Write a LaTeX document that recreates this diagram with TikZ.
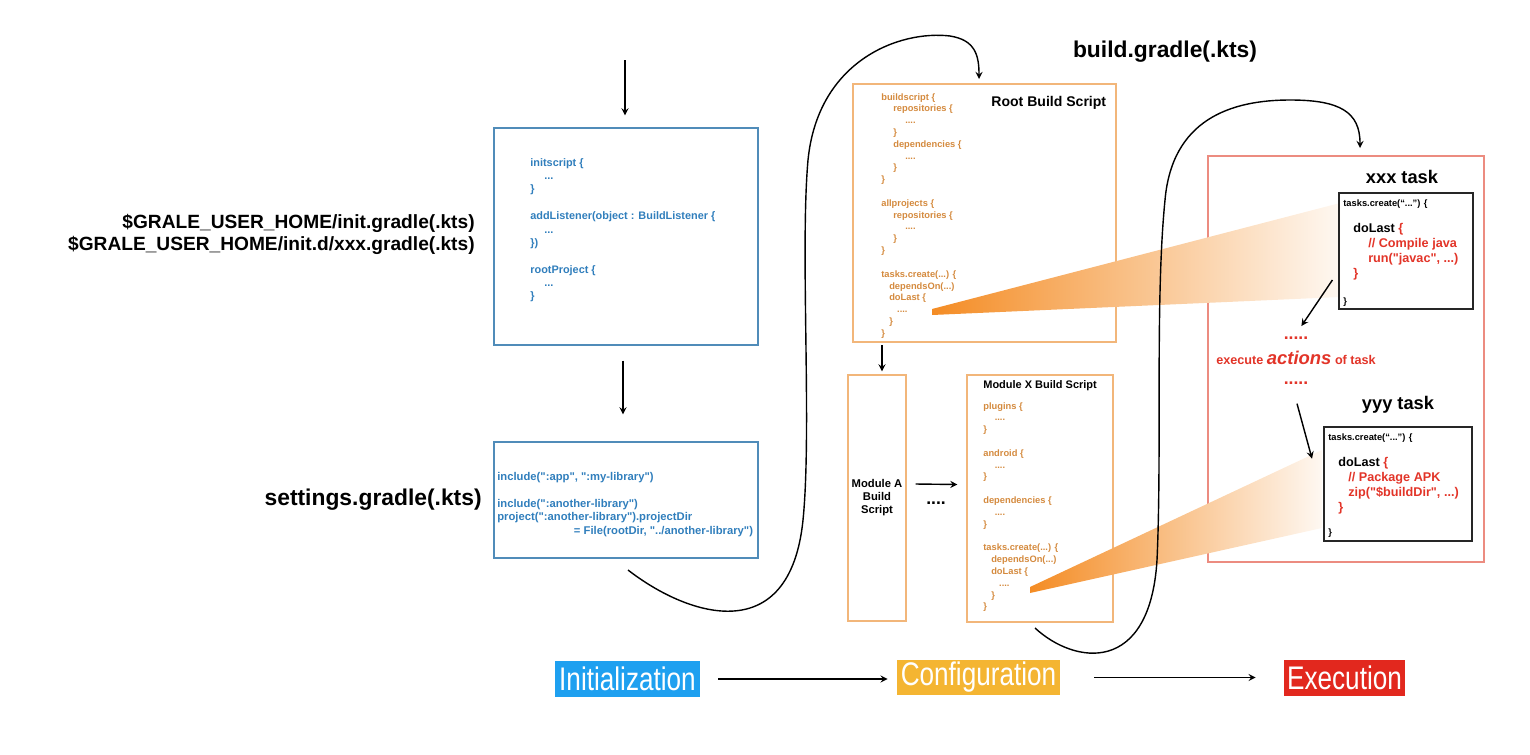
\documentclass[tikz,border=0pt]{standalone}
\usepackage{fontspec}
\setmainfont{Liberation Sans}[Ligatures=TeXOff]
\newfontfamily\stagefont[FakeStretch=0.8]{Liberation Sans}
\usetikzlibrary{arrows,positioning,calc}
\definecolor{initblue}{RGB}{48,126,188}
\definecolor{initline}{RGB}{80,140,185}
\definecolor{codeorange}{RGB}{212,138,62}
\definecolor{boxorange}{RGB}{242,182,122}
\definecolor{boxred}{RGB}{236,140,128}
\definecolor{taskred}{RGB}{226,52,40}
\definecolor{beamorange}{RGB}{244,140,36}
\definecolor{initbg}{RGB}{30,160,240}
\definecolor{confbg}{RGB}{244,181,50}
\definecolor{execbg}{RGB}{226,40,30}
\tikzset{
     flow/.style = {black, ->, >=stealth, thick},
     initframe/.style = {draw=initline, line width=0.7pt, inner sep=0pt},
     confframe/.style = {draw=boxorange, line width=0.7pt, inner sep=0pt},
     execframe/.style = {draw=boxred, line width=0.7pt, inner sep=0pt},
     taskframe/.style = {draw=black!85, line width=0.7pt, inner sep=0pt},
     stage/.style = {text=white, inner sep=0pt, font=\stagefont\fontsize{18.6}{20}\selectfont},
     filelabel/.style = {inner sep=0pt, font=\bfseries\fontsize{13}{15}\selectfont},
     codetext/.style = {align=left, anchor=north west, inner sep=0pt},
     gradlecode/.style = {codetext, text=codeorange, font=\bfseries\fontsize{5.3}{6.72}\selectfont},
     taskhead/.style = {anchor=base west, inner sep=0pt, font=\bfseries\fontsize{5.3}{6}\selectfont},
     taskbody/.style = {codetext, text=taskred, font=\bfseries\fontsize{7.2}{8.6}\selectfont},
    }

\begin{document}
\begin{tikzpicture}[x=0.02cm, y=-0.02cm]
  \useasboundingbox (0,0) rectangle (1530,754);

  \node [initframe, minimum width=5.28cm, minimum height=4.34cm] (initbox) at (626,236.5) {};
  \node [initframe, minimum width=5.28cm, minimum height=2.32cm] (setbox) at (626,500) {};
  \node [confframe, minimum width=5.26cm, minimum height=5.16cm] (rootbox) at (984.5,213) {};
  \node [confframe, minimum width=1.16cm, minimum height=4.92cm, align=center,
         font=\bfseries\fontsize{6.4}{7.4}\selectfont] (modA) at (877,498) {Module A\\Build\\Script};
  \node [confframe, minimum width=2.92cm, minimum height=4.94cm] (modX) at (1040,498.5) {};
  \node [execframe, minimum width=5.52cm, minimum height=8.12cm] (redbox) at (1346,359) {};

  \shade [left color=beamorange, right color=beamorange!6] (932,309) -- (1340,203) -- (1340,297) -- (932,315) -- cycle;
  \shade [left color=beamorange, right color=beamorange!6] (1030,587) -- (1322,450) -- (1322,528) -- (1030,593) -- cycle;

  \node [taskframe, minimum width=2.68cm, minimum height=2.32cm] (xxxbox) at (1406,251) {};
  \node [taskframe, minimum width=2.96cm, minimum height=2.28cm] (yyybox) at (1398,484) {};

  \node [align=right, anchor=east, inner sep=0pt, font=\bfseries\fontsize{10.9}{12.5}\selectfont] (initfiles) at (475,234)
        {\$GRALE\_USER\_HOME/init.gradle(.kts)\\\$GRALE\_USER\_HOME/init.d/xxx.gradle(.kts)};
  \node [filelabel, anchor=east] (setfile) at (482,500) {settings.gradle(.kts)};
  \node [filelabel] (buildfile) at (1165,52) {build.gradle(.kts)};

  \node [codetext, text=initblue, font=\bfseries\fontsize{6.2}{7.6}\selectfont] (initcode) at (530,158)
        {initscript \{\\
         \hspace*{8pt}...\\
         \}\\[7.6pt]
         addListener(object : BuildListener \{\\
         \hspace*{8pt}...\\
         \})\\[7.6pt]
         rootProject \{\\
         \hspace*{8pt}...\\
         \}};
  \node [codetext, text=initblue, font=\bfseries\fontsize{6.4}{7.65}\selectfont] (setcode) at (497,472)
        {include(":app", ":my-library")\\[7.65pt]
         include(":another-library")\\
         project(":another-library").projectDir\\
         \hspace*{43.6pt}= File(rootDir, "../another-library")};

  \node [gradlecode] (rootcode) at (881,93)
        {buildscript \{\\
         \hspace*{6.8pt}repositories \{\\
         \hspace*{13.6pt}....\\
         \hspace*{6.8pt}\}\\
         \hspace*{6.8pt}dependencies \{\\
         \hspace*{13.6pt}....\\
         \hspace*{6.8pt}\}\\
         \}\\[6.72pt]
         allprojects \{\\
         \hspace*{6.8pt}repositories \{\\
         \hspace*{13.6pt}....\\
         \hspace*{6.8pt}\}\\
         \}\\[6.72pt]
         tasks.create(...) \{\\
         \hspace*{4.5pt}dependsOn(...)\\
         \hspace*{4.5pt}doLast \{\\
         \hspace*{9pt}....\\
         \hspace*{4.5pt}\}\\
         \}};
  \node [anchor=west, inner sep=0pt, font=\bfseries\fontsize{8}{9.6}\selectfont] (roottitle) at (991,103) {Root Build Script};

  \node [anchor=west, inner sep=0pt, font=\bfseries\fontsize{6.25}{7.5}\selectfont] (modXtitle) at (983,386) {Module X Build Script};
  \node [gradlecode] (modXcode) at (983,402)
        {plugins \{\\
         \hspace*{6.5pt}....\\
         \}\\[6.72pt]
         android \{\\
         \hspace*{6.5pt}....\\
         \}\\[6.72pt]
         dependencies \{\\
         \hspace*{6.5pt}....\\
         \}\\[6.72pt]
         tasks.create(...) \{\\
         \hspace*{4.5pt}dependsOn(...)\\
         \hspace*{4.5pt}doLast \{\\
         \hspace*{9pt}....\\
         \hspace*{4.5pt}\}\\
         \}};
  \node [inner sep=0pt, font=\bfseries\fontsize{10}{12}\selectfont] (moddots) at (936,503) {....};

  \node [font=\bfseries\fontsize{10.4}{12}\selectfont, inner sep=0pt] (xxxtitle) at (1402,177) {xxx task};
  \node [taskhead] (xxxhead) at (1343,206) {tasks.create(“...”) \{};
  \node [taskbody] (xxxbody) at (1353,223)
        {\textcolor{black}{doLast} \{\\
         \hspace*{8.5pt}// Compile java\\
         \hspace*{8.5pt}run("javac", ...)\\
         \}};
  \node [taskhead] (xxxend) at (1343,304) {\}};

  \node [text=taskred, inner sep=0pt, font=\bfseries\fontsize{10}{12}\selectfont] (actdots) at (1296,338) {.....};
  \node [text=taskred, inner sep=0pt, font=\bfseries\fontsize{7.2}{9}\selectfont] (actline) at (1296,358)
        {execute {\itshape\fontsize{10.5}{12}\selectfont actions} of task};
  \node [text=taskred, inner sep=0pt, font=\bfseries\fontsize{10}{12}\selectfont] (actdots2) at (1296,383) {.....};

  \node [font=\bfseries\fontsize{10.4}{12}\selectfont, inner sep=0pt] (yyytitle) at (1398,405) {yyy task};
  \node [taskhead] (yyyhead) at (1328,440) {tasks.create(“...”) \{};
  \node [taskbody] (yyybody) at (1338,457)
        {\textcolor{black}{doLast} \{\\
         \hspace*{5.7pt}// Package APK\\
         \hspace*{5.7pt}zip("\$buildDir", ...)\\
         \}};
  \node [taskhead] (yyyend) at (1328,535) {\}};

  \node [stage, fill=initbg, minimum width=2.9cm, minimum height=0.72cm] (initstage) at (627.5,679) {Initialization};
  \node [stage, fill=confbg, minimum width=3.26cm, minimum height=0.70cm] (confstage) at (978.5,677.5) {Configuration};
  \node [stage, fill=execbg, minimum width=2.42cm, minimum height=0.72cm] (execstage) at (1344.5,678) {Execution};

  \coordinate (entry) at (625,60);
  \coordinate (loopa) at (628,570);
  \coordinate (loopb) at (979,79);
  \coordinate (loopc) at (1035,628);
  \coordinate (loopd) at (1360,148);

  \draw [flow] (entry) -- ($(initbox.north)+(-1,-12)$);
  \draw [flow] ($(initbox.south)+(-3,15)$) -- ($(setbox.north)+(-3,-27)$);
  \draw [flow] ($(modA.north)+(5,-29)$) -- ($(modA.north)+(5,-3)$);
  \draw [flow] ($(modA.east)+(9,-14)$) -- ($(modX.west)+(-9,-14)$);
  \draw [flow] ($(xxxbox.west)+(-6,29)$) -- ++(-31,46);
  \draw [flow] ($(actdots2.south)+(1,19)$) -- ++(15,55);
  \draw [flow, shorten <=0.36cm, shorten >=0.18cm] (initstage.east) -- (initstage.east -| confstage.west);
  \draw [flow, shorten <=0.68cm, shorten >=0.56cm] (confstage.east) -- (confstage.east -| execstage.west);

  \draw [flow] (loopa) .. controls (690,618) and (790,648) .. (803,520)
        .. controls (812,430) and (800,250) .. (808,160)
        .. controls (818,60) and (900,30) .. (950,36)
        .. controls (975,40) and (979,55) .. (loopb);
  \draw [flow] (loopc) .. controls (1075,665) and (1150,675) .. (1157,560)
        .. controls (1162,450) and (1155,300) .. (1165,200)
        .. controls (1172,120) and (1230,100) .. (1290,100)
        .. controls (1340,100) and (1360,112) .. (loopd);
\end{tikzpicture}
\end{document}
